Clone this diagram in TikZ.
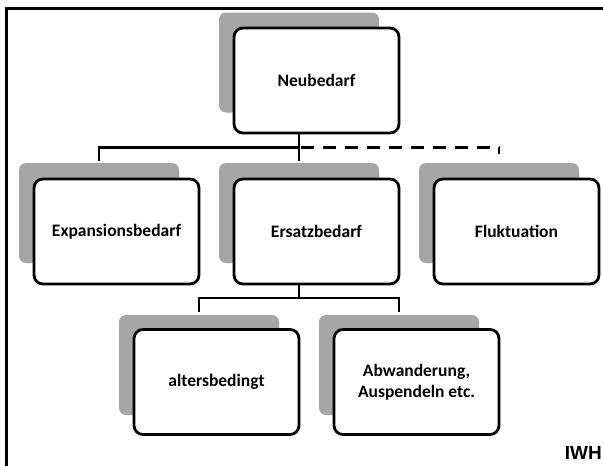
\documentclass[tikz,border=0pt]{standalone}
\usepackage{fontspec}
\setmainfont{Carlito}
\newfontfamily\iwhfont{Liberation Sans}
\usetikzlibrary{calc}
\definecolor{shadowgrey}{HTML}{A6A6A6}
\tikzset{
  mainbox/.style={draw=black, fill=white, line width=2.8pt, rounded corners=9pt,
    minimum width=165pt, minimum height=105pt, inner sep=0pt, align=center,
    font=\bfseries\fontsize{17.5}{21}\selectfont},
  shadowbox/.style={fill=shadowgrey, rounded corners=7pt, minimum width=160pt,
    minimum height=100pt, inner sep=0pt},
  conn/.style={line width=2.8pt},
  dashconn/.style={line width=2.8pt, dash pattern=on 13pt off 9pt},
  frameline/.style={line width=3pt}
}
\begin{document}
\begin{tikzpicture}[x=1pt,y=-1pt]
\useasboundingbox (0,0) rectangle (603,466);
\clip (0,0) rectangle (603,466);
% frame
\draw[frameline] (610,8.5) -- (6.5,8.5) -- (6.5,475);
% shadows
\node[shadowbox] (nS) at (299,62.5) {};
\node[shadowbox] (xS) at (99,213) {};
\node[shadowbox] (eS) at (299,213) {};
\node[shadowbox] (fS) at (499,213) {};
\node[shadowbox] (aS) at (199,365) {};
\node[shadowbox] (bS) at (399,365) {};
% main boxes
\node[mainbox] (n) at (316.5,80.5) {Neubedarf};
\node[mainbox] (x) at (116.5,231.5) {Expansionsbedarf};
\node[mainbox] (e) at (316.5,231.5) {Ersatzbedarf};
\node[mainbox] (f) at (516.5,231.5) {Fluktuation};
\node[mainbox] (a) at (216.5,382) {altersbedingt};
\node[mainbox] (b) at (416.5,382) {Abwanderung,\\Auspendeln etc.};
% junctions
\coordinate (j1) at (299,147.5);
\coordinate (j2) at (299,298);
% connectors
\draw[conn] (n.south -| nS.south) -- ($(eS.north)+(0,-2)$);
\draw[conn] ($(xS.north)+(0,-2)$) |- (j1);
\draw[dashconn] ($(j1)+(2,0)$) -| ($(fS.north)+(0,-9)$);
\draw[conn] (e.south -| eS.south) -- (j2);
\draw[conn] ($(aS.north)+(0,-3)$) |- (j2) -| ($(bS.north)+(0,-3)$);
% label
\node[anchor=base east, inner sep=0pt, font=\iwhfont\bfseries\fontsize{19}{22}\selectfont] (iwh) at (602,459) {IWH};
\end{tikzpicture}
\end{document}
